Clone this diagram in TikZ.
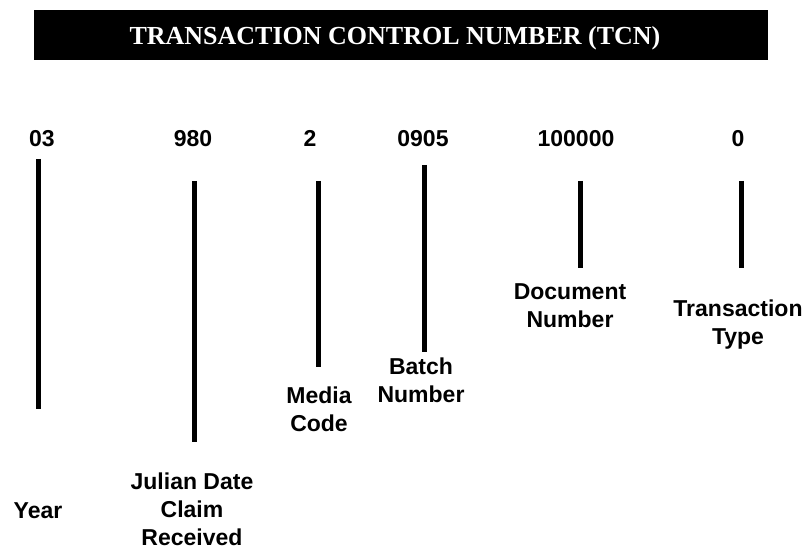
\documentclass[tikz,border=0pt]{standalone}
\usepackage{fontspec}
\setmainfont{Liberation Serif}
\newfontfamily\arialfont{Liberation Sans}
\begin{document}
\begin{tikzpicture}[x=0.75pt,y=-0.75pt,
  digit/.style={font=\arialfont\bfseries\fontsize{17.25pt}{21pt}\selectfont, anchor=base, inner sep=0pt},
  lbl/.style={font=\arialfont\bfseries\fontsize{17.25pt}{21pt}\selectfont, anchor=north, align=center, inner sep=0pt},
  tick/.style={line width=3.75pt, line cap=butt},
  titlebar/.style={fill=black, draw=none}
]
\useasboundingbox (0,0) rectangle (807,549);
\fill[titlebar] (34,10) rectangle (768,60);
\node[font=\bfseries\fontsize{19.5pt}{22pt}\selectfont, text=white, anchor=base, inner sep=0pt] (title) at (395,45) {TRANSACTION CONTROL NUMBER (TCN)};

% digits
\node[digit] (d1) at (42,147) {03};
\node[digit] (d2) at (193,147) {980};
\node[digit] (d3) at (310,147) {2};
\node[digit] (d4) at (423,147) {0905};
\node[digit] (d5) at (576,147) {100000};
\node[digit] (d6) at (738,147) {0};

% tick lines
\coordinate (t1a) at (38.5,159); \coordinate (t1b) at (38.5,409);
\coordinate (t2a) at (194.5,181); \coordinate (t2b) at (194.5,442);
\coordinate (t3a) at (318,181); \coordinate (t3b) at (318,367);
\coordinate (t4a) at (424,165); \coordinate (t4b) at (424,352);
\coordinate (t5a) at (580.5,181); \coordinate (t5b) at (580.5,268);
\coordinate (t6a) at (741.5,181); \coordinate (t6b) at (741.5,268);
\draw[tick] (t1a) -- (t1b);
\draw[tick] (t2a) -- (t2b);
\draw[tick] (t3a) -- (t3b);
\draw[tick] (t4a) -- (t4b);
\draw[tick] (t5a) -- (t5b);
\draw[tick] (t6a) -- (t6b);

% labels
\node[lbl] (l1) at (38,502) {Year};
\node[lbl] (l2) at (192,473) {Julian Date\\Claim\\Received};
\node[lbl] (l3) at (319,387) {Media\\Code};
\node[lbl] (l4) at (421,358) {Batch\\Number};
\node[lbl] (l5) at (570,283) {Document\\Number};
\node[lbl] (l6) at (738,300) {Transaction\\Type};
\end{tikzpicture}
\end{document}
